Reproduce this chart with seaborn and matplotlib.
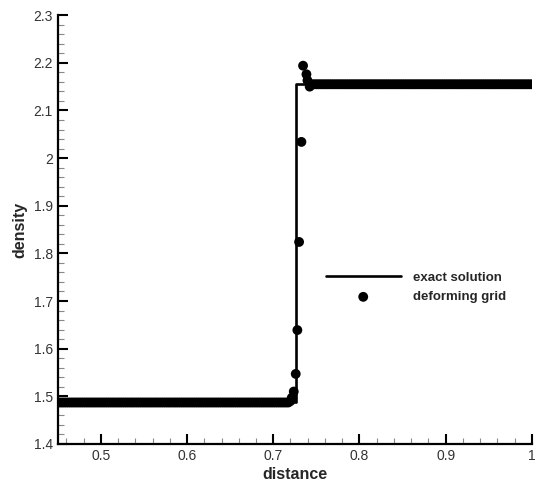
import numpy as np
import pandas as pd
import seaborn as sns
import matplotlib.pyplot as plt
from matplotlib.ticker import MultipleLocator, AutoMinorLocator

# exact solution (shock profile)
x_exact = [0.45, 0.7269, 0.7269, 1.0]
rho_exact = [1.487, 1.487, 2.155, 2.155]

# deforming grid values (grid nodes are packed tight, plateau left of shock)
x_left = [0.4500, 0.4525, 0.4550, 0.4575, 0.4600, 0.4625, 0.4650, 0.4675,
          0.4700, 0.4725, 0.4750, 0.4775, 0.4800, 0.4825, 0.4850, 0.4875,
          0.4900, 0.4925, 0.4950, 0.4975, 0.5000, 0.5025, 0.5050, 0.5075,
          0.5100, 0.5125, 0.5150, 0.5175, 0.5200, 0.5225, 0.5250, 0.5275,
          0.5300, 0.5325, 0.5350, 0.5375, 0.5400, 0.5425, 0.5450, 0.5475,
          0.5500, 0.5525, 0.5550, 0.5575, 0.5600, 0.5625, 0.5650, 0.5675,
          0.5700, 0.5725, 0.5750, 0.5775, 0.5800, 0.5825, 0.5850, 0.5875,
          0.5900, 0.5925, 0.5950, 0.5975, 0.6000, 0.6025, 0.6050, 0.6075,
          0.6100, 0.6125, 0.6150, 0.6175, 0.6200, 0.6225, 0.6250, 0.6275,
          0.6300, 0.6325, 0.6350, 0.6375, 0.6400, 0.6425, 0.6450, 0.6475,
          0.6500, 0.6525, 0.6550, 0.6575, 0.6600, 0.6625, 0.6650, 0.6675,
          0.6700, 0.6725, 0.6750, 0.6775, 0.6800, 0.6825, 0.6850, 0.6875,
          0.6900, 0.6925, 0.6950, 0.6975, 0.7000, 0.7025, 0.7050, 0.7075,
          0.7100, 0.7125, 0.7150, 0.7175]
rho_left = [1.487] * len(x_left)

x_shock = [0.7200, 0.7215, 0.7238, 0.7261, 0.7280, 0.7300, 0.7327, 0.7346,
           0.7385, 0.7397, 0.7423]
rho_shock = [1.490, 1.497, 1.510, 1.547, 1.639, 1.824, 2.034, 2.194,
             2.176, 2.163, 2.150]

# plateau right of shock
x_right = [0.7450, 0.7475,
           0.7500, 0.7525, 0.7550, 0.7575, 0.7600, 0.7625, 0.7650, 0.7675,
           0.7700, 0.7725, 0.7750, 0.7775, 0.7800, 0.7825, 0.7850, 0.7875,
           0.7900, 0.7925, 0.7950, 0.7975, 0.8000, 0.8025, 0.8050, 0.8075,
           0.8100, 0.8125, 0.8150, 0.8175, 0.8200, 0.8225, 0.8250, 0.8275,
           0.8300, 0.8325, 0.8350, 0.8375, 0.8400, 0.8425, 0.8450, 0.8475,
           0.8500, 0.8525, 0.8550, 0.8575, 0.8600, 0.8625, 0.8650, 0.8675,
           0.8700, 0.8725, 0.8750, 0.8775, 0.8800, 0.8825, 0.8850, 0.8875,
           0.8900, 0.8925, 0.8950, 0.8975, 0.9000, 0.9025, 0.9050, 0.9075,
           0.9100, 0.9125, 0.9150, 0.9175, 0.9200, 0.9225, 0.9250, 0.9275,
           0.9300, 0.9325, 0.9350, 0.9375, 0.9400, 0.9425, 0.9450, 0.9475,
           0.9500, 0.9525, 0.9550, 0.9575, 0.9600, 0.9625, 0.9650, 0.9675,
           0.9700, 0.9725, 0.9750, 0.9775, 0.9800, 0.9825, 0.9850, 0.9875,
           0.9900, 0.9925, 0.9950, 0.9975, 1.0000]
rho_right = [2.155] * len(x_right)

grid = pd.DataFrame({'distance': x_left + x_shock + x_right,
                     'density': rho_left + rho_shock + rho_right})
exact = pd.DataFrame({'distance': x_exact, 'density': rho_exact})

sns.set_style('ticks')
plt.rcParams['font.family'] = ['Liberation Sans', 'DejaVu Sans']

fig = plt.figure(figsize=(5.35, 4.9), dpi=100)
ax = fig.add_axes([0.108, 0.094, 0.886, 0.875])

sns.lineplot(data=exact, x='distance', y='density', estimator=None, sort=False,
             color='black', lw=1.9, label='exact solution', ax=ax)
sns.scatterplot(data=grid, x='distance', y='density', color='black', s=50,
                edgecolor='none', label='deforming grid', ax=ax, zorder=3)

ax.set_xlim(0.45, 1.0)
ax.set_ylim(1.4, 2.3)
ax.xaxis.set_major_locator(MultipleLocator(0.1))
ax.yaxis.set_major_locator(MultipleLocator(0.1))
ax.xaxis.set_minor_locator(AutoMinorLocator(5))
ax.yaxis.set_minor_locator(AutoMinorLocator(5))
ax.set_xticks([0.5, 0.6, 0.7, 0.8, 0.9, 1.0])
ax.set_xticklabels(['0.5', '0.6', '0.7', '0.8', '0.9', '1'])
ax.set_yticks([1.4, 1.5, 1.6, 1.7, 1.8, 1.9, 2.0, 2.1, 2.2, 2.3])
ax.set_yticklabels(['1.4', '1.5', '1.6', '1.7', '1.8', '1.9', '2', '2.1', '2.2', '2.3'])
ax.tick_params(which='major', direction='in', length=7, width=1.5, labelsize=10,
               labelcolor='#333333', color='black')
ax.tick_params(which='minor', direction='in', length=4, width=0.8, color='#888888')

sns.despine(ax=ax)
for s in ['left', 'bottom']:
    ax.spines[s].set_linewidth(1.6)
    ax.spines[s].set_color('black')

ax.set_xlabel('distance', fontsize=11.5, fontweight='bold', labelpad=3)
ax.set_ylabel('density', fontsize=11.5, fontweight='bold', labelpad=4)

ax.legend(frameon=False, loc='center left', bbox_to_anchor=(0.54, 0.365),
          handlelength=5.7, handletextpad=0.9, labelspacing=0.55,
          prop={'size': 9.5, 'weight': 'bold'}, markerscale=1.0)

fig.savefig('out.png', dpi=100)
